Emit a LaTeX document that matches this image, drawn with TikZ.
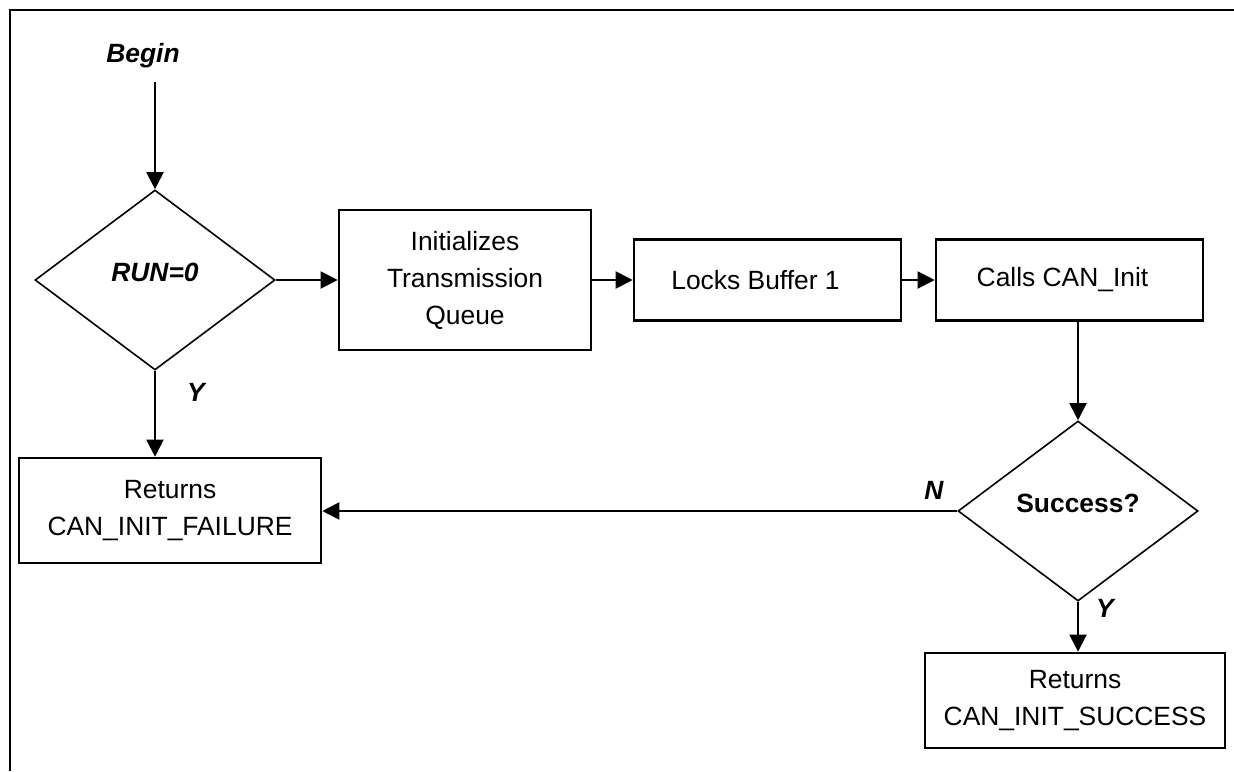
\documentclass[tikz,border=0pt]{standalone}
\usepackage{fontspec}
\setmainfont{Liberation Sans}
\usetikzlibrary{shapes.geometric,arrows.meta}

\begin{document}
\begin{tikzpicture}[
    x=0.5pt,y=-0.5pt,
    font=\fontsize{13.2}{18.5}\selectfont,
    box/.style={draw,line width=1.3pt,align=center,inner sep=0pt},
    cond/.style={draw,diamond,line width=0.8pt,inner sep=0pt,text depth=8pt,
      minimum width=120pt,minimum height=90pt,font=\fontsize{13.2}{18}\selectfont\bfseries},
    flow/.style={-{Triangle[length=8.5pt,width=8.5pt]},line width=1pt},
    lbl/.style={font=\fontsize{13.2}{18}\selectfont\bfseries\itshape}
    ]
    \useasboundingbox (0,0) rectangle (1234,771);
    \draw[line width=1.3pt] (1234,10) -- (10,10) -- (10,771);

    \node[lbl] (begin) at (143,56) {Begin};
    \coordinate (start) at (155,82);
    \node[cond,font=\fontsize{13.2}{18}\selectfont\bfseries\itshape] (run) at (155,280) {RUN=0};
    \node[box,minimum width=126pt,minimum height=70pt] (init) at (465,280) {Initializes\\Transmission\\Queue};
    \node[box,minimum width=133.5pt,minimum height=40.5pt] (lock) at (767.5,280) {Locks Buffer 1\hspace*{12pt}};
    \node[box,minimum width=133.5pt,minimum height=40.5pt] (call) at (1069.5,280) {Calls CAN\_Init\hspace*{7pt}};
    \node[cond] (ok) at (1078,511) {Success?};
    \node[box,minimum width=151pt,minimum height=52.5pt] (fail) at (170,510.5) {Returns\\CAN\_INIT\_FAILURE};
    \node[box,minimum width=150pt,minimum height=47.5pt] (done) at (1075,700.5) {Returns\\CAN\_INIT\_SUCCESS};

    \node[lbl] (y1) at (196,392) {Y};
    \node[lbl] (n2) at (934,490) {N};
    \node[lbl] (y2) at (1105,608) {Y};

    \draw[flow] (start) -- (run.north);
    \draw[flow] (run) -- (init);
    \draw[flow] (init) -- (lock);
    \draw[flow] (lock) -- (call);
    \draw[flow] (call.south -| ok.north) -- (ok.north);
    \draw[flow] (run.south) -- (run.south |- fail.north);
    \draw[flow] (ok.west) -- (ok.west -| fail.east);
    \draw[flow] (ok.south) -- (ok.south |- done.north);
\end{tikzpicture}
\end{document}
